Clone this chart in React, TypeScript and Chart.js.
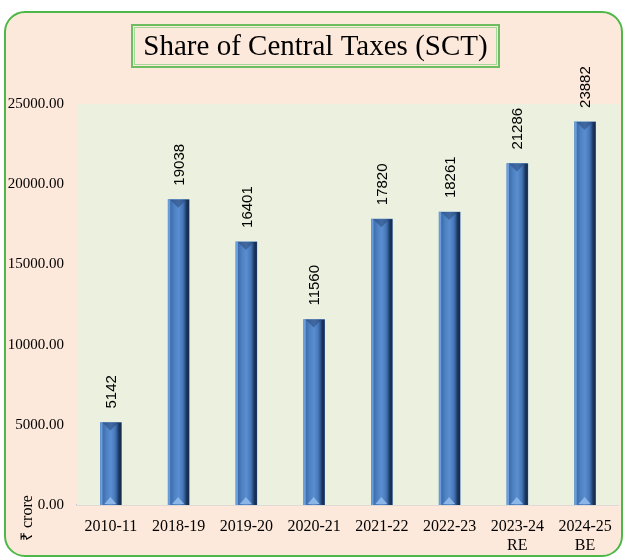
import React, { useEffect, useRef } from "react";
import { Chart, registerables } from "chart.js";

Chart.register(...registerables);

const categories: (string | string[])[] = [
  "2010-11",
  "2018-19",
  "2019-20",
  "2020-21",
  "2021-22",
  "2022-23",
  ["2023-24", "RE"],
  ["2024-25", "BE"],
];
const sctValues: number[] = [5142, 19038, 16401, 11560, 17820, 18261, 21286, 23882];
const yTicks: number[] = [0, 5000, 10000, 15000, 20000, 25000];
const titleText = "Share of Central Taxes (SCT)";
const yAxisTitle = "₹ crore";

const SERIF = "'Liberation Serif', 'Times New Roman', serif";
const SANS = "'Liberation Sans', Arial, sans-serif";

const decorPlugin = {
  id: "decor",
  beforeDraw(chart: any) {
    const ctx = chart.ctx as CanvasRenderingContext2D;
    ctx.save();
    ctx.fillStyle = "#ffffff";
    ctx.fillRect(0, 0, chart.width, chart.height);
    ctx.beginPath();
    (ctx as any).roundRect(5, 12, 617, 544, 20);
    ctx.fillStyle = "#FDE9DB";
    ctx.fill();
    ctx.lineWidth = 2;
    ctx.strokeStyle = "#4DB848";
    ctx.stroke();
    ctx.restore();
  },
  beforeDatasetsDraw(chart: any) {
    const ctx = chart.ctx as CanvasRenderingContext2D;
    const a = chart.chartArea;
    ctx.save();
    ctx.fillStyle = "#EBF0DF";
    ctx.fillRect(a.left, a.top, a.right - a.left, a.bottom - a.top);
    ctx.restore();
  },
  afterDatasetsDraw(chart: any) {
    const ctx = chart.ctx as CanvasRenderingContext2D;
    const meta = chart.getDatasetMeta(0);
    ctx.save();
    meta.data.forEach((el: any, i: number) => {
      const { x, y, base, width } = el.getProps(["x", "y", "base", "width"], true);
      const l = x - width / 2;
      const r = x + width / 2;
      const t = y;
      const b = base;
      const g = ctx.createLinearGradient(l, 0, r, 0);
      g.addColorStop(0, "#6D9EDC");
      g.addColorStop(0.08, "#6D9EDC");
      g.addColorStop(0.12, "#3E6EAE");
      g.addColorStop(0.3, "#4E82C3");
      g.addColorStop(0.5, "#5A8ED0");
      g.addColorStop(0.7, "#4778B9");
      g.addColorStop(0.8, "#2F5892");
      g.addColorStop(0.88, "#1C365C");
      g.addColorStop(1, "#142A4C");
      ctx.fillStyle = g;
      ctx.fillRect(l, t, width, b - t);
      // top bevel
      ctx.beginPath();
      ctx.moveTo(l + 2, t);
      ctx.lineTo(r - 3, t);
      ctx.lineTo(x - 0.5, t + 8);
      ctx.closePath();
      ctx.fillStyle = "rgba(35,60,105,0.45)";
      ctx.fill();
      // bottom highlight
      ctx.beginPath();
      ctx.moveTo(l + 4, b - 1);
      ctx.lineTo(r - 5, b - 1);
      ctx.lineTo(x - 0.5, b - 8);
      ctx.closePath();
      ctx.fillStyle = "#8DB6E8";
      ctx.fill();
      // value label
      ctx.save();
      ctx.translate(x + 1, t - 14);
      ctx.rotate(-Math.PI / 2);
      ctx.font = `15px ${SANS}`;
      ctx.fillStyle = "#000000";
      ctx.textAlign = "left";
      ctx.textBaseline = "middle";
      ctx.fillText(String(sctValues[i]), 0, 0);
      ctx.restore();
    });
    ctx.restore();
  },
  afterDraw(chart: any) {
    const ctx = chart.ctx as CanvasRenderingContext2D;
    ctx.save();
    // title box
    ctx.strokeStyle = "#6DBE60";
    ctx.lineWidth = 2;
    ctx.strokeRect(132, 25, 367, 42);
    ctx.strokeStyle = "#A5D99A";
    ctx.lineWidth = 1;
    ctx.strokeRect(134.5, 27.5, 362, 37);
    ctx.font = `29px ${SERIF}`;
    ctx.fillStyle = "#000000";
    ctx.textAlign = "center";
    ctx.textBaseline = "alphabetic";
    ctx.fillText(titleText, 315.5, 55);
    // y axis title
    ctx.translate(28, 541);
    ctx.rotate(-Math.PI / 2);
    ctx.font = `16px ${SERIF}`;
    ctx.textAlign = "left";
    ctx.textBaseline = "middle";
    ctx.fillText(yAxisTitle, 0, 0);
    ctx.restore();
  },
};

export default function App() {
  const ref = useRef<HTMLCanvasElement | null>(null);
  useEffect(() => {
    if (!ref.current) return;
    Chart.defaults.font.family = SERIF;
    const chart = new Chart(ref.current, {
      type: "bar",
      data: {
        labels: categories,
        datasets: [
          {
            label: "SCT",
            data: sctValues,
            backgroundColor: "#4A7EBF",
            borderWidth: 0,
            barThickness: 21,
          },
        ],
      },
      options: {
        responsive: false,
        animation: false,
        devicePixelRatio: 1,
        layout: { padding: { left: 0, right: 4, top: 104, bottom: 0 } },
        plugins: {
          legend: { display: false },
          title: { display: false },
          tooltip: { enabled: false },
        },
        scales: {
          x: {
            grid: { display: false, drawTicks: false, tickLength: 0 },
            border: { display: true, color: "#C3C9CF", width: 1.5 },
            ticks: {
              color: "#000000",
              font: { size: 16, family: SERIF, lineHeight: 1.2 },
              padding: 12,
              maxRotation: 0,
              autoSkip: false,
            },
            afterFit: (s: any) => {
              s.height = 53;
            },
          },
          y: {
            min: 0,
            max: 25000,
            afterBuildTicks: (s: any) => {
              s.ticks = yTicks.map((v) => ({ value: v }));
            },
            grid: { display: false, drawTicks: false, tickLength: 0 },
            border: { display: false },
            ticks: {
              color: "#000000",
              font: { size: 15, family: SERIF },
              padding: 13,
              callback: (v: any) => Number(v).toFixed(2),
            },
            afterFit: (s: any) => {
              s.width = 77;
            },
          },
        },
      },
      plugins: [decorPlugin],
    });
    return () => chart.destroy();
  }, []);
  return (
    <div style={{ position: "fixed", left: 0, top: 0, width: 624, height: 558 }}>
      <canvas ref={ref} width={624} height={558} style={{ display: "block" }} />
    </div>
  );
}
